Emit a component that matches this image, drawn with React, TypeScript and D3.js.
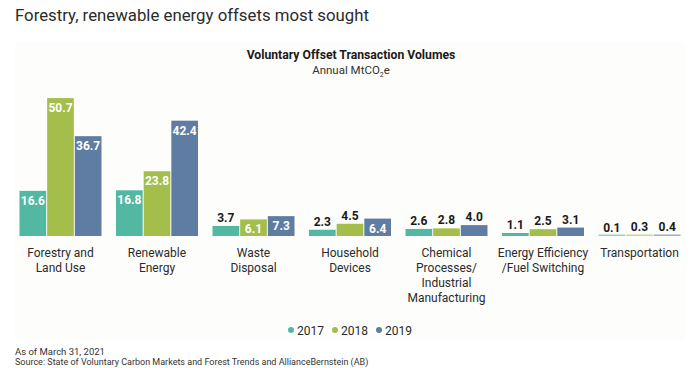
import React from "react"
import * as d3 from "d3"

const categories = [
  ["Forestry and", "Land Use"],
  ["Renewable", "Energy"],
  ["Waste", "Disposal"],
  ["Household", "Devices"],
  ["Chemical", "Processes/", "Industrial", "Manufacturing"],
  ["Energy Efficiency", "/Fuel Switching"],
  ["Transportation"],
]
const years = ["2017", "2018", "2019"]
const v2017 = [16.6, 16.8, 3.7, 2.3, 2.6, 1.1, 0.1]
const v2018 = [50.7, 23.8, 6.1, 4.5, 2.8, 2.5, 0.3]
const v2019 = [36.7, 42.4, 7.3, 6.4, 4.0, 3.1, 0.4]
const colors = ["#52b8a2", "#a3be4b", "#5f7ca2"]

const W = 700
const H = 368
const font = "Roboto, 'DejaVu Sans', sans-serif"

export default function App() {
  const series = [v2017, v2018, v2019]
  const x = d3
    .scaleBand<number>()
    .domain(d3.range(categories.length))
    .range([19, 681])
    .paddingInner(0.14)
    .paddingOuter(0)
  const xs = d3
    .scaleBand<number>()
    .domain(d3.range(years.length))
    .range([0, x.bandwidth()])
  const y = d3.scaleLinear().domain([0, 55]).range([236, 236 - 55 * 2.72])

  return (
    <div style={{ position: "fixed", left: 0, top: 0 }}>
      <svg width={W} height={H} style={{ display: "block", background: "#fff" }}>
        <rect x={15} y={42} width={670} height={298} fill="#fdfdfb" />
        <text x={15} y={21} fontFamily={font} fontSize={16.8} fill="#2b2b2b">
          Forestry, renewable energy offsets most sought
        </text>
        <text x={351} y={59} textAnchor="middle" fontFamily={font} fontSize={12.2} fontWeight={700} fill="#1a1a1a">
          Voluntary Offset Transaction Volumes
        </text>
        <text x={351} y={74} textAnchor="middle" fontFamily={font} fontSize={11.5} fill="#333">
          Annual MtCO<tspan fontSize={7} dy={3}>2</tspan>
          <tspan dy={-3}>e</tspan>
        </text>

        {categories.map((lines, i) => (
          <g key={i} transform={`translate(${x(i)},0)`}>
            {series.map((vals, s) => {
              const v = vals[i]
              const top = y(v)
              const h = Math.max(y(0) - top, 1.5)
              const inside = v >= 6
              const bx = xs(s)!
              return (
                <g key={s}>
                  <rect
                    x={bx + 0.5}
                    y={y(0) - h}
                    width={xs.bandwidth() - 1}
                    height={h}
                    fill={colors[s]}
                    opacity={v < 1 ? 0.6 : 1}
                  />
                  <text
                    x={bx + xs.bandwidth() / 2}
                    y={inside ? top + 14 : top - 4}
                    textAnchor="middle"
                    fontFamily={font}
                    fontSize={12}
                    fontWeight={700}
                    fill={inside ? "#fff" : "#1a1a1a"}
                  >
                    {v.toFixed(1)}
                  </text>
                </g>
              )
            })}
            {lines.map((ln, k) => (
              <text
                key={k}
                x={x.bandwidth() / 2}
                y={257 + k * 15}
                textAnchor="middle"
                fontFamily={font}
                fontSize={12}
                fill="#2b2b2b"
              >
                {ln}
              </text>
            ))}
          </g>
        ))}

        {years.map((yr, s) => (
          <g key={yr} transform={`translate(${291 + s * 44},330)`}>
            <circle r={3} fill={colors[s]} />
            <text x={6} y={4.5} fontFamily={font} fontSize={12} fill="#2b2b2b">
              {yr}
            </text>
          </g>
        ))}

        <text x={15} y={355} fontFamily={font} fontSize={9.5} fill="#333">
          As of March 31, 2021
        </text>
        <text x={15} y={365} fontFamily={font} fontSize={9} fill="#333">
          Source: State of Voluntary Carbon Markets and Forest Trends and AllianceBernstein (AB)
        </text>
      </svg>
    </div>
  )
}
